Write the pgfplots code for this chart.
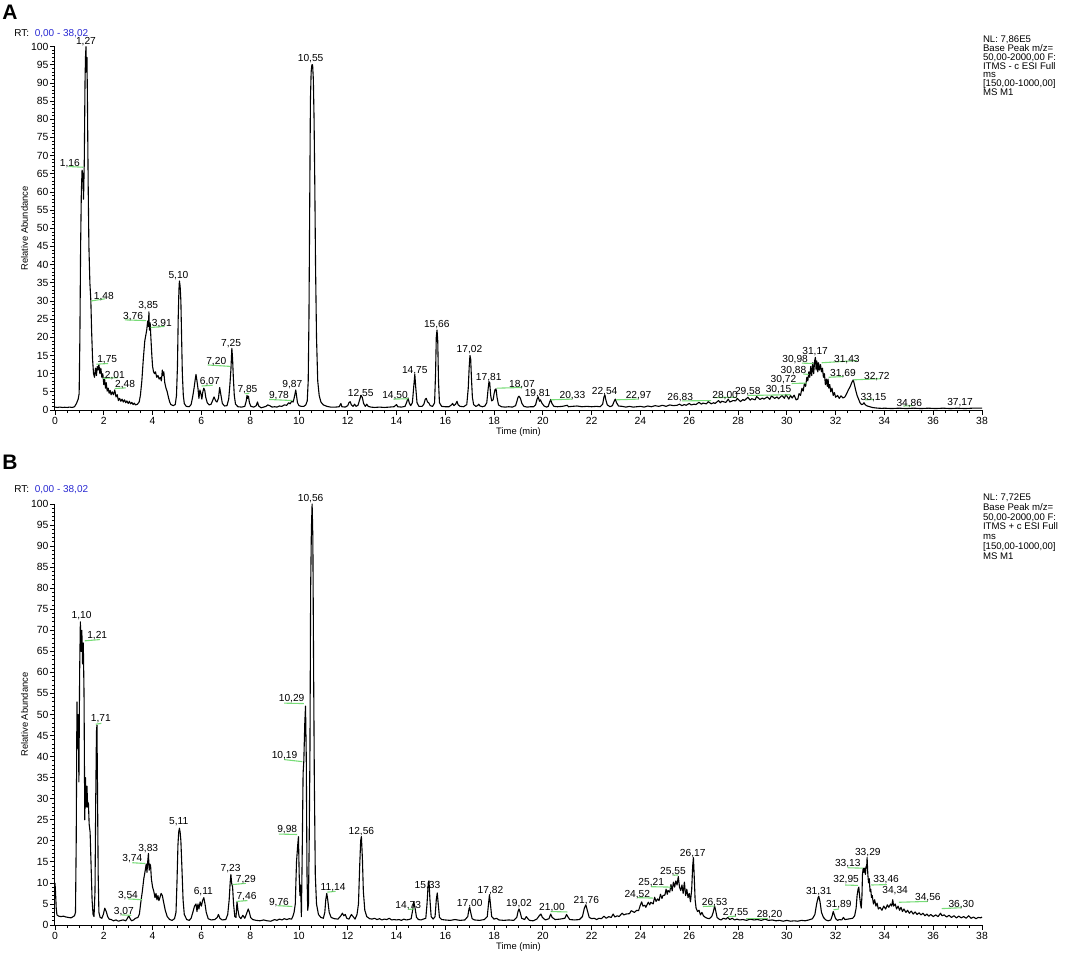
\documentclass[border=0pt]{standalone}
\usepackage{fontspec}
\setmainfont{Liberation Sans}
\usepackage{pgfplots}
\pgfplotsset{compat=1.18}
\definecolor{pkgreen}{RGB}{120,220,120}
\definecolor{rtblue}{RGB}{40,40,210}
\newcommand\pl{\fontsize{5.1}{5.5}\selectfont}
\pgfplotsset{
  chrom/.style={
    scale only axis, width=463.5pt,
    xmin=0, xmax=38, ymin=0, ymax=100,
    axis lines*=left, axis line style={-, line width=0.5pt},
    xtick={0,2,...,38}, minor x tick num=3,
    ytick={0,5,...,100}, minor y tick num=4,
    tick align=outside, major tick length=2.5pt, minor tick length=1.5pt,
    tick style={line width=0.4pt, black},
    tick label style={font=\fontsize{5.2}{6}\selectfont},
    yticklabel style={inner sep=0.6pt},
    xticklabel style={inner sep=1pt},
    /pgf/number format/assume math mode=true,
    xlabel={Time (min)}, ylabel={Relative Abundance},
    label style={font=\fontsize{4.7}{5}\selectfont},
    xlabel style={inner sep=0.5pt},
    ylabel style={inner sep=0.8pt},
    clip=false,
  },
  trace/.style={black, line width=0.55pt, line join=round, no markers},
  gl/.style={pkgreen, line width=0.55pt, no markers},
}
\begin{document}
\begin{tikzpicture}
\path[use as bounding box] (0pt,0pt) rectangle (532.5pt,477.5pt);

% ---------------- panel A ----------------
\node[font=\bfseries\fontsize{10.5}{11}\selectfont, anchor=center] at (5pt,471.5pt) {A};
\node[font=\fontsize{5}{5.5}\selectfont, anchor=west, inner sep=0] at (7pt,460.8pt) {RT:\ \ \textcolor{rtblue}{0,00 - 38,02}};
\node[font=\fontsize{4.8}{4.36}\selectfont, anchor=north west, align=left, inner sep=0] at (491.3pt,459.6pt)
  {NL: 7,86E5\\Base Peak m/z=\\50,00-2000,00 F:\\ITMS - c ESI Full\\ms\\{[150,00-1000,00]}\\MS M1};

\begin{axis}[chrom, height=181.7pt, at={(27.5pt,272.5pt)}, anchor=south west]
\addplot[trace] coordinates {
(0,0.8)(0.1,0.7)(0.2,0.8)(0.3,0.7)(0.4,0.75)(0.5,0.7)(0.6,0.8)(0.7,0.7)(0.8,0.9)(0.88,1.8)(0.95,3.0)(0.99,4.5)
(1.02,20)(1.05,45)(1.08,60)(1.11,66)(1.14,65)(1.17,58)(1.2,68)(1.23,90)(1.25,97)(1.27,100)(1.29,93)(1.31,97)(1.33,85)
(1.36,62)(1.39,45)(1.43,35)(1.47,30)(1.5,22)(1.54,14)(1.58,10)(1.62,9)(1.66,11.5)(1.7,9.5)(1.73,12)(1.76,11)(1.8,12.5)
(1.84,10)(1.88,11.5)(1.92,9)(1.96,10)(2.0,7)(2.03,8.8)(2.07,6)(2.1,7.5)(2.14,5.2)(2.18,6)(2.22,4.6)(2.26,5.4)(2.3,4.2)
(2.35,5)(2.4,4.2)(2.45,5.5)(2.5,3.6)(2.55,4.2)(2.6,2.6)(2.65,3.2)(2.7,2.4)(2.75,3)(2.8,2.2)(2.85,2.8)(2.9,2.0)(2.95,2.5)
(3.0,1.8)(3.05,2.4)(3.1,1.7)(3.15,2.1)(3.2,1.5)(3.25,1.9)(3.3,1.4)(3.38,1.6)(3.45,2.2)(3.5,4)(3.56,8)(3.62,14)(3.68,19)
(3.72,20.5)(3.76,22)(3.8,24.5)(3.83,23)(3.85,27)(3.87,22)(3.9,24)(3.93,20)(3.97,15)(4.0,12)(4.04,10.5)(4.08,10)(4.12,10.5)
(4.17,9)(4.22,9.5)(4.27,8.5)(4.32,9)(4.36,8)(4.4,11)(4.43,9.5)(4.46,10.5)(4.5,7.5)(4.55,6)(4.6,5)(4.65,3.5)(4.7,2.2)
(4.75,1.5)(4.85,1.2)(4.93,1.5)(4.98,4)(5.02,12)(5.05,25)(5.08,33)(5.1,35.5)(5.13,34)(5.16,30)(5.19,20)(5.22,10)(5.26,4)
(5.3,1.8)(5.38,1.0)(5.5,0.9)(5.58,1.5)(5.64,3.5)(5.7,6)(5.75,8.5)(5.78,9.8)(5.82,8)(5.86,6)(5.9,3.2)(5.94,5.5)(5.98,4.5)
(6.02,3)(6.06,5)(6.1,6)(6.14,5.4)(6.18,3.5)(6.24,2)(6.32,1.4)(6.4,1.6)(6.46,2.6)(6.52,3.6)(6.58,2.6)(6.64,2.2)(6.7,3.2)
(6.75,6.2)(6.8,4.2)(6.86,1.8)(6.95,1.1)(7.05,1.2)(7.12,3)(7.17,7)(7.21,11)(7.25,17)(7.28,14)(7.31,9)(7.35,4)(7.4,1.6)
(7.5,0.9)(7.65,0.8)(7.78,1)(7.84,2.5)(7.87,4)(7.9,3.2)(7.93,3.8)(7.97,2)(8.03,1.0)(8.15,0.8)(8.25,1.2)(8.3,2.2)(8.35,1.1)
(8.45,0.6)(8.55,0.8)(8.65,1.0)(8.72,1.4)(8.8,1.2)(8.9,0.8)(9.0,0.9)(9.1,0.8)(9.2,1.1)(9.3,1.0)(9.4,1.4)(9.5,1.3)(9.58,2)
(9.64,1.7)(9.7,2.4)(9.76,2.2)(9.8,3.2)(9.84,4.5)(9.87,5.5)(9.9,4)(9.94,2)(10.0,1.2)(10.1,1.0)(10.2,1.0)(10.28,1.4)
(10.34,2.5)(10.38,8)(10.41,25)(10.44,55)(10.47,85)(10.5,93)(10.53,95)(10.56,95)(10.59,91)(10.62,80)(10.65,62)(10.68,40)
(10.72,20)(10.77,8)(10.83,4)(10.9,2.2)(11.0,1.4)(11.15,1.0)(11.3,0.8)(11.5,0.8)(11.65,0.9)(11.72,1.8)(11.76,0.9)(11.9,0.8)
(12.0,1.2)(12.05,2)(12.1,2.3)(12.15,1.4)(12.22,1.0)(12.28,1.6)(12.34,1.0)(12.42,1.3)(12.48,2.6)(12.52,3.5)(12.55,4)
(12.6,3.4)(12.65,1.8)(12.72,1.0)(12.78,1.6)(12.84,1.0)(12.95,0.8)(13.1,0.7)(13.3,0.8)(13.5,0.7)(13.7,0.8)(13.9,0.9)
(14.0,1.5)(14.05,0.9)(14.2,0.8)(14.35,1.0)(14.42,2.2)(14.47,3.3)(14.52,2.0)(14.58,1.2)(14.65,2)(14.7,6)(14.75,9.8)
(14.79,6)(14.84,2)(14.92,1.0)(15.05,1.0)(15.12,1.6)(15.18,3.0)(15.22,3.2)(15.27,2.2)(15.32,2.0)(15.38,1.2)(15.48,1.0)
(15.56,2)(15.6,10)(15.63,20)(15.66,22)(15.69,19)(15.72,8)(15.76,2)(15.85,1.0)(16.0,0.9)(16.15,0.9)(16.25,1.4)(16.3,1.8)
(16.35,1.2)(16.42,1.6)(16.48,2.4)(16.52,1.5)(16.6,1.0)(16.75,0.9)(16.88,1.5)(16.94,6)(16.98,12)(17.01,15)(17.04,14)
(17.07,9)(17.11,3.5)(17.16,1.5)(17.25,1.0)(17.32,1.2)(17.37,1.6)(17.42,1.1)(17.52,0.9)(17.62,1.1)(17.7,2)(17.75,5.5)
(17.79,7.8)(17.82,7.5)(17.86,4)(17.9,2.5)(17.96,2.8)(18.0,4.5)(18.04,5.6)(18.08,5.8)(18.12,3.5)(18.18,1.4)(18.3,0.9)
(18.45,0.8)(18.6,0.9)(18.75,0.8)(18.88,1.2)(18.94,2.5)(18.98,3.5)(19.02,3.8)(19.08,3.2)(19.14,1.8)(19.22,1.0)(19.35,0.8)
(19.5,0.9)(19.62,0.9)(19.7,1.4)(19.76,3)(19.81,3.6)(19.86,2.4)(19.9,2.8)(19.95,2.0)(20.05,1.1)(20.15,0.8)(20.22,1.0)
(20.28,2.2)(20.32,2.9)(20.37,1.8)(20.45,1.0)(20.6,0.9)(20.8,1.0)(21.0,1.3)(21.05,0.9)(21.2,1.0)(21.4,1.1)(21.6,0.9)
(21.8,1.0)(22.0,0.9)(22.2,1.0)(22.35,0.9)(22.45,1.6)(22.5,3.5)(22.54,4.2)(22.58,2.8)(22.64,1.4)(22.75,0.9)(22.85,1.2)
(22.92,2.4)(22.97,3.0)(23.02,2.0)(23.1,1.1)(23.25,1.0)(23.4,0.8)(23.55,1.0)(23.7,0.8)(23.85,0.9)(24.0,1.0)(24.15,0.8)
(24.3,1.1)(24.45,0.9)(24.6,1.2)(24.75,1.0)(24.9,1.3)(25.05,1.0)(25.2,1.4)(25.35,1.2)(25.5,1.3)(25.6,1.6)(25.7,1.2)
(25.8,1.5)(25.87,1.3)(26.0,1.8)(26.08,1.4)(26.2,1.6)(26.27,1.5)(26.4,2.1)(26.5,1.6)(26.56,1.9)(26.7,1.7)(26.78,2.3)(26.9,1.7)
(27.0,2.0)(27.06,1.8)(27.2,2.6)(27.27,2.0)(27.33,2.4)(27.5,2.1)(27.6,3.0)(27.66,2.2)(27.8,2.6)(27.9,2.5)(27.97,3.2)(28.1,2.3)
(28.2,2.9)(28.26,2.6)(28.4,3.5)(28.5,2.7)(28.56,3.1)(28.7,2.8)(28.76,3.7)(28.9,2.9)(29.0,3.3)(29.06,3.0)(29.2,3.6)(29.3,2.9)
(29.37,3.9)(29.5,3.2)(29.6,3.6)(29.66,3.1)(29.8,4.0)(29.9,3.2)(29.96,4.3)(30.08,3.0)(30.15,4.0)(30.22,3.3)(30.3,4.1)
(30.38,2.8)(30.45,3.0)(30.5,4.5)(30.56,4.0)(30.62,6.0)(30.67,5.2)(30.72,7.3)(30.77,6.5)(30.82,9.0)(30.86,8.0)(30.9,10.5)
(30.94,9.0)(30.98,12.0)(31.02,9.5)(31.06,13)(31.1,10)(31.14,13.5)(31.17,14.5)(31.2,11)(31.23,13.5)(31.27,10.5)(31.3,13)
(31.34,11)(31.38,12.5)(31.42,10.5)(31.46,11.5)(31.5,9.0)(31.54,10)(31.58,7.0)(31.62,8.5)(31.66,6.5)(31.69,8.5)(31.72,6.0)
(31.76,7.0)(31.8,5.0)(31.85,6.0)(31.9,4.0)(31.95,4.8)(32.0,3.5)(32.08,4.0)(32.15,3.2)(32.22,3.9)(32.3,3.3)(32.38,3.6)
(32.45,4.5)(32.52,5.5)(32.6,6.5)(32.66,7.5)(32.72,8.3)(32.77,7.0)(32.82,5.5)(32.88,4.0)(32.94,3.0)(33.0,2.0)(33.06,1.5)
(33.12,1.6)(33.16,2.0)(33.22,1.4)(33.3,1.1)(33.4,0.9)(33.5,0.7)(33.6,0.6)(33.75,0.5)(33.9,0.45)(34.0,0.5)(34.3,0.4)
(34.6,0.5)(34.9,0.4)(35.2,0.5)(35.5,0.4)(35.8,0.5)(36.1,0.4)(36.4,0.5)(36.7,0.4)(37.0,0.5)(37.3,0.4)(37.6,0.5)(38.0,0.5)
};
% peak marker lines
\addplot[gl] coordinates {(0.55,67)(1.16,66.8)};
\addplot[gl] coordinates {(1.48,30)(2.05,30.6)};
\addplot[gl] coordinates {(2.86,24.8)(3.74,24.6)};
\addplot[gl] coordinates {(3.92,22.7)(4.49,23.0)};
\addplot[gl] coordinates {(6.26,12.4)(7.18,12.0)};
\addplot[gl] coordinates {(1.70,12.6)(2.18,12.8)};
\addplot[gl] coordinates {(1.97,8.7)(2.59,8.9)};
\addplot[gl] coordinates {(2.45,5.9)(2.9,6.1)};
\addplot[gl] coordinates {(6.01,6.6)(6.46,6.8)};
\addplot[gl] coordinates {(7.8,4.5)(7.97,4.6)};
\addplot[gl] coordinates {(8.78,2.9)(9.73,2.6)};
\addplot[gl] coordinates {(13.87,3.0)(14.49,3.1)};
\addplot[gl] coordinates {(18.11,6.0)(19.14,6.2)};
\addplot[gl] coordinates {(20.32,2.8)(21.21,3.0)};
\addplot[gl] coordinates {(23.0,2.8)(23.92,3.0)};
\addplot[gl] coordinates {(25.7,2.5)(26.9,2.6)};
\addplot[gl] coordinates {(27.0,3.4)(27.95,3.5)};
\addplot[gl] coordinates {(28.4,4.0)(30.15,4.2)};
\addplot[gl] coordinates {(30.2,7.3)(30.82,7.4)};
\addplot[gl] coordinates {(30.68,9.9)(30.89,9.8)};
\addplot[gl] coordinates {(30.62,12.9)(31.09,12.8)};
\addplot[gl] coordinates {(31.43,13.0)(32.87,13.6)};
\addplot[gl] coordinates {(31.71,9.0)(32.32,9.2)};
\addplot[gl] coordinates {(32.73,8.3)(33.83,8.6)};
\addplot[gl] coordinates {(33.21,2.8)(33.55,2.9)};
\addplot[gl] coordinates {(34.78,1.1)(35.19,1.2)};
% peak labels
\begin{scope}[every node/.style={font=\pl, inner sep=0, anchor=center}]
\node at (1.27,101.4) {1,27};
\node at (0.61,67.9) {1,16};
\node at (10.48,96.6) {10,55};
\node at (5.06,37) {5,10};
\node at (2.0,31.2) {1,48};
\node at (3.82,28.6) {3,85};
\node at (3.2,25.7) {3,76};
\node at (4.38,23.7) {3,91};
\node at (7.22,18.3) {7,25};
\node at (6.61,13.3) {7,20};
\node at (2.14,13.8) {1,75};
\node at (2.45,9.6) {2,01};
\node at (2.87,6.9) {2,48};
\node at (6.35,7.8) {6,07};
\node at (7.89,5.5) {7,85};
\node at (9.18,3.9) {9,78};
\node at (9.73,6.9) {9,87};
\node at (12.53,4.6) {12,55};
\node at (13.94,3.9) {14,50};
\node at (14.75,10.8) {14,75};
\node at (15.65,23.6) {15,66};
\node at (16.99,16.5) {17,02};
\node at (17.78,9.0) {17,81};
\node at (19.14,6.9) {18,07};
\node at (19.78,4.6) {19,81};
\node at (21.21,3.9) {20,33};
\node at (22.53,5.0) {22,54};
\node at (23.92,3.9) {22,97};
\node at (25.63,3.5) {26,83};
\node at (27.47,4.1) {28,00};
\node at (28.4,5.0) {29,58};
\node at (29.66,5.5) {30,15};
\node at (29.86,8.4) {30,72};
\node at (30.27,10.8) {30,88};
\node at (30.34,13.8) {30,98};
\node at (31.16,16.1) {31,17};
\node at (32.46,14.0) {31,43};
\node at (32.3,9.9) {31,69};
\node at (33.69,9.2) {32,72};
\node at (33.55,3.5) {33,15};
\node at (35.02,1.8) {34,86};
\node at (37.1,2.0) {37,17};
\end{scope}
\end{axis}

% ---------------- panel B ----------------
\node[font=\bfseries\fontsize{10.5}{11}\selectfont, anchor=center] at (5pt,246.5pt) {B};
\node[font=\fontsize{5}{5.5}\selectfont, anchor=west, inner sep=0] at (7pt,232.8pt) {RT:\ \ \textcolor{rtblue}{0,00 - 38,02}};
\node[font=\fontsize{4.8}{4.9}\selectfont, anchor=north west, align=left, inner sep=0] at (491.3pt,230.8pt)
  {NL: 7,72E5\\Base Peak m/z=\\50,00-2000,00 F:\\ITMS + c ESI Full\\ms\\{[150,00-1000,00]}\\MS M1};

\begin{axis}[chrom, height=210.5pt, at={(27.5pt,15pt)}, anchor=south west]
\addplot[trace] coordinates {
(0,10)(0.02,8)(0.05,4)(0.08,2.4)(0.15,2.1)(0.25,2.0)(0.35,2.1)(0.45,1.9)(0.55,1.8)(0.65,1.7)(0.72,1.9)(0.8,2.2)(0.84,3)
(0.87,20)(0.9,53)(0.92,42)(0.95,50)(0.98,34)(1.01,60)(1.04,72)(1.07,65)(1.1,70)(1.13,62)(1.16,67)(1.19,55)(1.22,25)
(1.25,35)(1.28,28)(1.31,33)(1.34,28)(1.37,29)(1.4,24)(1.44,22)(1.48,14)(1.52,6)(1.56,2.5)(1.6,2)(1.64,8)(1.67,30)(1.7,46)
(1.72,47.5)(1.74,34)(1.77,12)(1.8,3)(1.85,1.8)(1.92,1.6)(1.98,2.5)(2.04,4)(2.1,3.2)(2.16,2)(2.22,1.4)(2.3,1.3)(2.4,1.0)
(2.5,1.2)(2.6,0.9)(2.7,1.1)(2.8,1.2)(2.9,1.0)(2.96,1.5)(3.02,2.2)(3.08,1.5)(3.14,1.0)(3.22,1.2)(3.3,1.6)(3.4,1.8)
(3.46,2.6)(3.52,5.5)(3.58,8)(3.64,11)(3.7,13)(3.74,14.5)(3.77,12.5)(3.8,15)(3.83,17)(3.86,13)(3.89,14.5)(3.92,14)(3.95,11)
(4.0,9)(4.05,8)(4.1,6.5)(4.14,7.5)(4.18,6)(4.22,7)(4.26,5.8)(4.3,6.5)(4.35,7.5)(4.4,7)(4.45,5.5)(4.52,3.5)(4.6,2)(4.7,1.3)
(4.8,1.1)(4.9,1.5)(4.96,3)(5.0,10)(5.04,19)(5.07,22)(5.1,23)(5.13,22)(5.16,20)(5.2,14)(5.25,6)(5.3,2.5)(5.4,1.3)(5.5,1.1)
(5.58,1.6)(5.65,3)(5.72,4.5)(5.78,5)(5.82,3.2)(5.86,5)(5.9,3.8)(5.95,5.5)(6.0,4.5)(6.05,5.8)(6.1,6.5)(6.15,5)(6.2,3)
(6.28,1.5)(6.4,1.2)(6.55,1.3)(6.65,1.8)(6.7,2.5)(6.76,1.6)(6.85,1.2)(7.0,1.3)(7.08,2.5)(7.14,6)(7.18,10)(7.21,12)(7.24,10)
(7.28,9)(7.32,5)(7.37,2)(7.42,1.8)(7.46,5.5)(7.5,3.5)(7.55,2)(7.62,1.5)(7.7,2.3)(7.78,1.6)(7.86,2.8)(7.92,3.8)(7.96,3.2)
(8.02,1.8)(8.1,1.3)(8.25,1.1)(8.4,1.0)(8.55,1.2)(8.7,1.0)(8.85,0.9)(9.0,1.3)(9.1,1.1)(9.2,1.4)(9.3,1.2)(9.4,1.5)(9.5,1.3)
(9.6,1.5)(9.7,1.4)(9.76,2.2)(9.8,3)(9.85,5)(9.9,15)(9.95,19)(9.98,21)(10.01,12)(10.04,7)(10.07,9.5)(10.1,2)(10.13,15)
(10.17,36)(10.2,39)(10.24,48)(10.27,52)(10.3,40)(10.33,12)(10.36,3.5)(10.39,5)(10.42,20)(10.45,40)(10.48,80)(10.51,94)
(10.54,100)(10.57,92)(10.6,62)(10.63,35)(10.67,12)(10.72,5)(10.8,2.5)(10.9,1.8)(11.0,1.6)(11.06,3)(11.1,6)(11.14,7.5)
(11.18,6)(11.24,3)(11.32,1.8)(11.45,1.5)(11.6,1.4)(11.72,2.2)(11.78,2.8)(11.84,2.2)(11.9,2.5)(11.96,1.6)(12.05,1.4)
(12.15,2.5)(12.22,2)(12.3,1.4)(12.38,2.5)(12.44,5)(12.49,14)(12.53,20)(12.56,21)(12.6,16)(12.64,8)(12.7,3.5)(12.78,2)
(12.9,1.5)(13.0,1.4)(13.1,1.6)(13.2,1.3)(13.3,1.5)(13.4,1.2)(13.5,1.4)(13.6,1.3)(13.7,1.6)(13.8,1.2)(13.9,1.3)(14.0,1.2)
(14.1,1.3)(14.2,1.1)(14.3,1.4)(14.4,1.2)(14.5,1.3)(14.6,1.5)(14.66,3.5)(14.71,5.5)(14.76,4)(14.82,1.8)(14.9,1.3)(15.0,1.2)
(15.1,1.4)(15.2,1.6)(15.25,5)(15.3,10)(15.33,10.5)(15.37,6)(15.42,2)(15.5,1.4)(15.58,2)(15.63,6)(15.67,7.6)(15.71,5)
(15.76,1.8)(15.85,1.3)(16.0,1.2)(16.2,1.1)(16.4,1.3)(16.6,1.1)(16.8,1.2)(16.92,2)(16.97,3.8)(17.0,4.2)(17.04,3)(17.1,1.5)
(17.2,1.2)(17.4,1.1)(17.6,1.3)(17.72,2)(17.77,5)(17.81,7.2)(17.85,5)(17.9,2)(18.0,1.4)(18.1,1.6)(18.2,1.2)(18.4,1.1)
(18.6,1.2)(18.8,1.1)(18.93,1.8)(18.98,3.2)(19.02,3.8)(19.07,3)(19.13,1.6)(19.25,1.3)(19.32,2)(19.37,1.6)(19.45,1.1)
(19.6,1.0)(19.75,1.4)(19.85,2.2)(19.92,2.6)(19.98,1.8)(20.1,1.2)(20.25,1.5)(20.32,2.6)(20.38,1.8)(20.5,1.3)(20.7,1.4)
(20.9,1.6)(20.97,2.5)(21.02,2)(21.1,1.3)(21.3,1.2)(21.5,1.3)(21.62,2)(21.7,4)(21.76,4.8)(21.82,3.5)(21.9,1.8)(22.0,1.5)
(22.1,1.6)(22.2,1.3)(22.3,1.6)(22.4,1.5)(22.5,2.1)(22.6,1.6)(22.7,2.0)(22.8,1.8)(22.88,2.6)(22.95,1.9)(23.05,2.2)
(23.12,2.0)(23.25,2.8)(23.32,2.4)(23.4,2.6)(23.55,2.7)(23.62,3.4)(23.75,3.0)(23.85,3.5)(23.92,3.4)(24.0,4.8)(24.05,5.5)
(24.1,4.5)(24.18,4.7)(24.22,4.2)(24.32,5.4)(24.38,4.8)(24.42,5.4)(24.52,5.0)(24.58,6.6)(24.64,5.6)(24.7,6.2)(24.76,5.8)
(24.82,7.3)(24.88,6.3)(24.92,7.0)(25.0,7.1)(25.05,8.5)(25.1,7.3)(25.13,8.2)(25.2,7.8)(25.25,9.6)(25.3,8.1)(25.35,10.2)
(25.4,9)(25.45,10.5)(25.5,9.5)(25.55,11.5)(25.6,9.0)(25.65,8.2)(25.7,9.5)(25.75,7.5)(25.8,10.2)(25.85,7.0)(25.9,8.5)
(25.95,6.5)(26.0,7.5)(26.05,5.5)(26.1,8.5)(26.14,14)(26.17,16)(26.2,12)(26.24,6)(26.28,4)(26.34,3.2)(26.4,3.5)(26.46,2.4)
(26.52,3)(26.58,2.2)(26.66,1.8)(26.74,1.6)(26.82,1.5)(26.92,2.0)(26.98,3.0)(27.04,4.5)(27.08,3.5)(27.14,1.8)(27.22,1.4)
(27.3,1.2)(27.4,1.6)(27.5,1.4)(27.58,1.8)(27.66,1.3)(27.76,1.6)(27.86,1.2)(27.96,1.4)(28.06,1.2)(28.2,1.3)(28.35,1.1)
(28.5,1.4)(28.65,1.2)(28.8,1.3)(28.95,1.1)(29.1,1.4)(29.25,1.1)(29.4,1.2)(29.55,1.0)(29.7,1.1)(29.85,0.9)(30.0,1.1)
(30.15,0.9)(30.3,1.0)(30.45,0.9)(30.6,1.1)(30.75,1.0)(30.9,1.2)(31.05,1.5)(31.15,2.5)(31.22,5)(31.28,6.5)(31.31,6.8)
(31.36,5.5)(31.42,3)(31.5,1.8)(31.6,1.2)(31.7,1.0)(31.8,1.2)(31.86,2.2)(31.9,3.2)(31.94,2.5)(32.0,1.5)(32.08,1.1)
(32.15,1.3)(32.25,1.2)(32.32,1.8)(32.38,1.3)(32.5,1.4)(32.6,1.5)(32.7,1.6)(32.78,2.2)(32.84,4)(32.88,7)(32.92,8.5)
(32.95,9)(32.98,7)(33.02,5)(33.05,4)(33.08,7)(33.1,12)(33.13,13.5)(33.16,12.5)(33.19,13.5)(33.22,12)(33.25,14)(33.27,13.5)
(33.29,16)(33.32,12)(33.35,10)(33.38,11)(33.41,8)(33.44,8.5)(33.47,6.5)(33.5,7)(33.55,5)(33.6,6)(33.65,4.5)(33.7,5.2)
(33.75,3.8)(33.82,4.2)(33.9,3.5)(33.97,4.5)(34.05,3.8)(34.12,4.8)(34.18,4.2)(34.25,5)(34.3,4.5)(34.34,6)(34.38,4.5)
(34.44,5)(34.5,3.8)(34.56,4.5)(34.62,3.5)(34.68,4.2)(34.74,3.2)(34.8,3.8)(34.88,3.0)(34.95,3.5)(35.02,2.8)(35.1,3.3)
(35.18,2.6)(35.26,3.1)(35.34,2.5)(35.42,2.9)(35.5,2.4)(35.58,2.8)(35.66,2.2)(35.74,2.6)(35.82,2.1)(35.9,2.5)(36.0,2.0)
(36.1,2.4)(36.2,2.0)(36.3,2.8)(36.36,2.2)(36.45,2.4)(36.55,1.9)(36.65,2.3)(36.75,1.8)(36.85,2.2)(36.95,1.7)(37.05,2.1)
(37.15,1.7)(37.25,2.0)(37.35,1.6)(37.45,2.2)(37.55,1.6)(37.65,1.9)(37.75,1.5)(37.85,1.8)(37.95,1.7)(38.0,1.9)
};
\addplot[gl] coordinates {(1.22,67.5)(1.84,67.8)};
\addplot[gl] coordinates {(1.67,47.7)(1.9,47.9)};
\addplot[gl] coordinates {(9.39,52.7)(10.2,52.6)};
\addplot[gl] coordinates {(9.39,39.3)(10.14,38.8)};
\addplot[gl] coordinates {(9.18,21.6)(9.93,21.5)};
\addplot[gl] coordinates {(3.17,14.8)(3.7,14.6)};
\addplot[gl] coordinates {(2.99,6.2)(3.58,6.0)};
\addplot[gl] coordinates {(2.72,2.4)(3.13,2.3)};
\addplot[gl] coordinates {(7.28,9.6)(7.82,9.9)};
\addplot[gl] coordinates {(7.44,5.6)(7.89,5.8)};
\addplot[gl] coordinates {(9.12,4.6)(9.73,4.4)};
\addplot[gl] coordinates {(11.16,7.8)(11.5,8.0)};
\addplot[gl] coordinates {(14.48,3.7)(14.71,3.8)};
\addplot[gl] coordinates {(20.32,3.2)(21.0,3.1)};
\addplot[gl] coordinates {(23.87,6.5)(24.51,6.4)};
\addplot[gl] coordinates {(24.44,9.1)(25.26,9.0)};
\addplot[gl] coordinates {(25.35,11.8)(25.55,11.9)};
\addplot[gl] coordinates {(26.56,4.4)(27.04,4.5)};
\addplot[gl] coordinates {(27.58,2.0)(27.92,2.1)};
\addplot[gl] coordinates {(28.33,1.6)(29.22,1.6)};
\addplot[gl] coordinates {(31.91,3.6)(32.13,3.8)};
\addplot[gl] coordinates {(32.39,9.5)(32.91,9.4)};
\addplot[gl] coordinates {(32.5,13.6)(33.12,13.5)};
\addplot[gl] coordinates {(33.46,9.5)(34.1,9.6)};
\addplot[gl] coordinates {(34.59,5.4)(35.78,5.6)};
\addplot[gl] coordinates {(36.35,3.9)(37.15,4.1)};
\begin{scope}[every node/.style={font=\pl, inner sep=0, anchor=center}]
\node at (10.48,101.3) {10,56};
\node at (1.09,73.6) {1,10};
\node at (1.73,68.7) {1,21};
\node at (1.88,48.9) {1,71};
\node at (9.7,53.7) {10,29};
\node at (9.41,40.2) {10,19};
\node at (9.52,22.6) {9,98};
\node at (5.07,24.5) {5,11};
\node at (3.82,18.2) {3,83};
\node at (3.17,15.7) {3,74};
\node at (2.99,7.1) {3,54};
\node at (2.82,3.2) {3,07};
\node at (7.2,13.3) {7,23};
\node at (7.82,10.8) {7,29};
\node at (6.08,7.9) {6,11};
\node at (7.85,6.7) {7,46};
\node at (9.18,5.3) {9,76};
\node at (11.4,8.9) {11,14};
\node at (12.56,22.2) {12,56};
\node at (14.48,4.6) {14,73};
\node at (15.27,9.3) {15,33};
\node at (17.0,5.1) {17,00};
\node at (17.85,8.1) {17,82};
\node at (19.02,5.0) {19,02};
\node at (20.37,4.1) {21,00};
\node at (21.78,5.9) {21,76};
\node at (23.87,7.3) {24,52};
\node at (24.44,10.1) {25,21};
\node at (25.33,12.7) {25,55};
\node at (26.14,17.0) {26,17};
\node at (27.04,5.3) {26,53};
\node at (27.9,2.9) {27,55};
\node at (29.29,2.5) {28,20};
\node at (31.31,7.9) {31,31};
\node at (32.13,4.8) {31,89};
\node at (32.43,10.7) {32,95};
\node at (32.5,14.5) {33,13};
\node at (33.32,17.2) {33,29};
\node at (34.07,10.7) {33,46};
\node at (34.44,8.2) {34,34};
\node at (35.78,6.6) {34,56};
\node at (37.15,4.8) {36,30};
\end{scope}
\end{axis}
\end{tikzpicture}
\end{document}
